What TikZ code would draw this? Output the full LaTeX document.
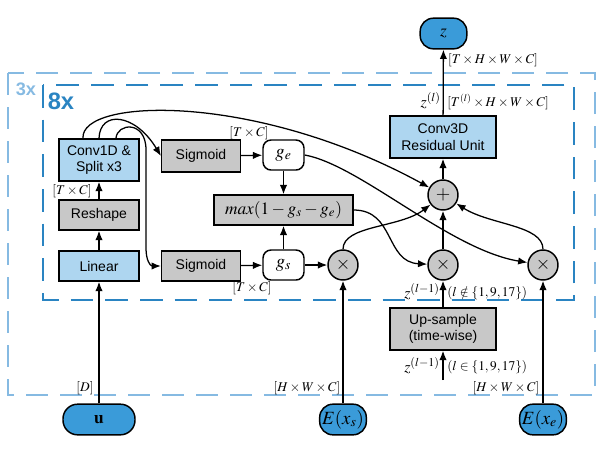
\documentclass[tikz,border=0pt]{standalone}
\usepackage{mathptmx}
\usepackage{fontspec}
\setsansfont{Liberation Sans}
\usetikzlibrary{arrows.meta,calc}
\definecolor{lightfill}{HTML}{AED6F0}
\definecolor{darkfill}{HTML}{3A9BD9}
\definecolor{grayfill}{HTML}{C8C8C8}
\definecolor{outerc}{HTML}{86BAE2}
\definecolor{innerc}{HTML}{2A84C2}
\begin{document}
\begin{tikzpicture}[x=0.75pt,y=-0.75pt,
  box/.style={draw=black, line width=1.1pt, minimum width=60pt, minimum height=22.5pt, inner sep=1pt, font=\sffamily\fontsize{10.5}{12.5}\selectfont, align=center},
  bluebox/.style={box, fill=lightfill},
  graybox/.style={box, fill=grayfill},
  gate/.style={draw, line width=1.1pt, fill=white, rounded corners=6pt, minimum width=30.75pt, minimum height=22.5pt, inner sep=0pt, font=\fontsize{14}{14}\selectfont},
  op/.style={circle, draw, line width=1.1pt, fill=grayfill, minimum size=22.5pt, inner sep=0pt, font=\fontsize{14}{14}\selectfont},
  io/.style={draw, line width=1.1pt, fill=darkfill, rounded corners=10pt, minimum height=23pt, inner sep=1pt, font=\fontsize{14}{14}\selectfont},
  arr/.style={line width=0.95pt, -{Latex[length=7pt,width=5.5pt]}},
  lab/.style={font=\fontsize{10}{11}\selectfont, inner sep=0pt},
  zlab/.style={font=\fontsize{12}{13}\selectfont, inner sep=0pt},
]
\useasboundingbox (0,0) rectangle (604,455);
% dashed frames
\draw[outerc, line width=1.6pt, dash pattern=on 16.5pt off 9pt] (8,73) rectangle (595,395);
\draw[innerc, line width=2.2pt, dash pattern=on 17pt off 9pt] (43,85) rectangle (574,300);
\node[font=\sffamily\bfseries\fontsize{13.6}{14}\selectfont, text=outerc, inner sep=0pt] (l3) at (26,89) {3x};
\node[font=\sffamily\bfseries\fontsize{17.8}{18}\selectfont, text=innerc, inner sep=0pt] (l8) at (61,101) {8x};

% nodes
\node[bluebox, minimum height=31.5pt] (conv) at (99,160) {Conv1D \&\\Split x3};
\node[graybox] (resh) at (99,215) {Reshape};
\node[bluebox] (lin) at (99,266) {Linear};
\node[graybox, minimum width=59pt, minimum height=24pt] (sig1) at (201,156) {Sigmoid};
\node[graybox, minimum width=59pt] (sig2) at (201,266) {Sigmoid};
\node[gate] (ge) at (283.5,155) {$g_e$};
\node[gate] (gs) at (283.5,265) {$g_s$};
\node[graybox, minimum width=104pt, font=\fontsize{13}{14}\selectfont] (mx) at (283.5,210) {$max(1-g_s-g_e)$};
\node[op] (plus) at (443,195) {$+$};
\node[op] (x1) at (343,265) {$\times$};
\node[op] (x2) at (443,265) {$\times$};
\node[op] (x3) at (543,265) {$\times$};
\node[bluebox, minimum width=79.5pt, minimum height=31.5pt] (c3d) at (443,137) {Conv3D\\Residual Unit};
\node[io, minimum width=35pt, font=\fontsize{13}{13}\selectfont] (z) at (443.5,33.5) {$z$};
\node[io, minimum width=54pt, rounded corners=11pt, font=\fontsize{13}{13}\selectfont] (u) at (99,419.5) {$\mathbf{u}$};
\node[io, minimum width=35pt] (exs) at (343,419.5) {$E(x_s)$};
\node[io, minimum width=35pt] (exe) at (543,419.5) {$E(x_e)$};
\node[graybox, minimum width=79.5pt, minimum height=31.5pt] (up) at (443,329) {Up-sample\\(time-wise)};
\coordinate (uin) at (443,380);

% labels
\node[lab] (t1) at (249,133) {$[T\times C]$};
\node[lab] (t2) at (72,191) {$[T\times C]$};
\node[lab] (t3) at (252,288) {$[T\times C]$};
\node[lab] (d1) at (85,388) {$[D]$};
\node[lab] (h1) at (307,388) {$[H\times W\times C]$};
\node[lab] (h2) at (506,388) {$[H\times W\times C]$};
\node[lab] (h3) at (493,60) {$[T\times H\times W\times C]$};
\node[zlab, anchor=east] (zl) at (441,101) {$z^{(l)}$};
\node[lab] (h4) at (498,102) {$[T^{(l)}\times H\times W\times C]$};
\node[zlab, anchor=east] (zl1) at (440,292) {$z^{(l-1)}$};
\node[lab, anchor=west] (c1) at (447,293) {$(l\notin\{1,9,17\})$};
\node[zlab, anchor=east] (zl2) at (440,366) {$z^{(l-1)}$};
\node[lab, anchor=west] (c2) at (447,367) {$(l\in\{1,9,17\})$};

% connectors
\draw[arr] ($(conv.north)+(-16,0)$) .. controls (80,98) and (255,92) .. (plus);
\draw[arr] (conv.north) .. controls (100,110) and (135,113) .. (sig1.west);
\draw[arr] ($(conv.north)+(17,0)$) .. controls (117,123) and (146,120) .. (146,150) -- (146,248) .. controls (146,260) and (150,266) .. (sig2.west);
\draw[arr] (sig1) -- (ge);
\draw[arr] (sig2) -- (gs);
\draw[arr] (ge) -- (mx);
\draw[arr] (gs) -- (mx);
\draw[arr] (gs) -- (x1);
\draw[arr] (ge.east) .. controls (360,165) and (450,250) .. (x3);
\draw[arr] (mx.east) .. controls (395,210) and (385,262) .. (x2);
\draw[arr] (x1.north) .. controls (343,225) and (400,228) .. (plus);
\draw[arr] (x3.north) .. controls (543,225) and (490,225) .. (plus);
\draw[arr] (x2) -- (plus);
\draw[arr] (plus) -- (c3d);
\draw[arr] (c3d) -- (z);
\draw[arr] (up) -- (x2);
\draw[arr] (uin) -- (up);
\draw[arr] (u) -- (lin);
\draw[arr] (lin) -- (resh);
\draw[arr] (resh) -- (conv);
\draw[arr] (exs) -- (x1);
\draw[arr] (exe) -- (x3);
\end{tikzpicture}
\end{document}
